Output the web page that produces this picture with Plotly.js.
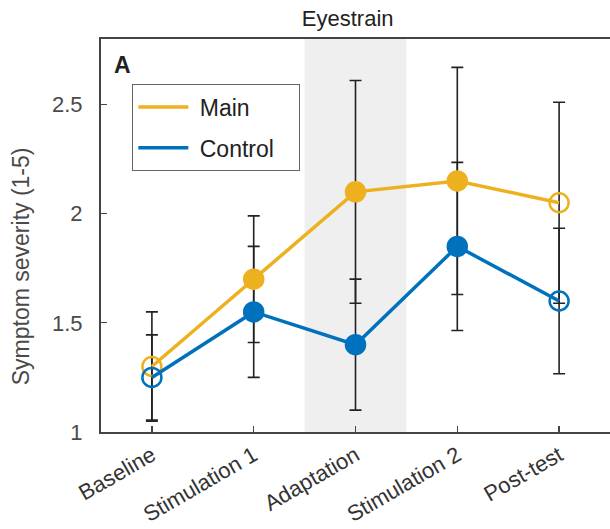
<!DOCTYPE html>
<html>
<head>
<meta charset="utf-8">
<script src="https://cdn.plot.ly/plotly-3.0.1.min.js"></script>
<style>html,body{margin:0;padding:0;background:#fff;}#chart{width:610px;height:529px;}</style>
</head>
<body>
<div id="chart"></div>
<script>
const categories = ["Baseline", "Stimulation 1", "Adaptation", "Stimulation 2", "Post-test"];
const positions = [1, 2, 3, 4, 5];
const mainMean = [1.30, 1.70, 2.10, 2.15, 2.05];
const mainErr = [0.25, 0.29, 0.51, 0.52, 0.46];
const controlMean = [1.25, 1.55, 1.40, 1.85, 1.60];
const controlErr = [0.195, 0.30, 0.30, 0.385, 0.333];
const markerSymbols = ["circle-open", "circle", "circle", "circle", "circle-open"];
const shadedPhase = [2.5, 3.5];
const yRange = [1, 2.8];
const yTicks = [1, 1.5, 2, 2.5];

const YELLOW = "#EDB120";
const BLUE = "#0072BD";
const FONT = "Liberation Sans, Arial, Helvetica, sans-serif";

function errTrace(y, e) {
  return {
    x: positions, y: y, type: "scatter", mode: "markers",
    marker: {size: 1, color: "rgba(0,0,0,0)"},
    error_y: {type: "data", array: e, visible: true, color: "#222", thickness: 1.6, width: 6},
    showlegend: false, hoverinfo: "skip"
  };
}
function dataTrace(y, color) {
  return {
    x: positions, y: y, type: "scatter", mode: "lines+markers",
    line: {color: color, width: 3.5},
    marker: {symbol: markerSymbols, size: 19, color: color, line: {color: color, width: 2.5}},
    showlegend: false
  };
}
function legendTrace(name, color, group) {
  return {
    x: [null], y: [null], type: "scatter", mode: "lines", name: name,
    line: {color: color, width: 3.5}, legendgroup: group, showlegend: true
  };
}

const data = [
  errTrace(mainMean, mainErr),
  errTrace(controlMean, controlErr),
  dataTrace(mainMean, YELLOW),
  dataTrace(controlMean, BLUE),
  legendTrace(" Main", YELLOW, "m"),
  legendTrace(" Control\u00a0\u00a0\u00a0", BLUE, "c")
];

const layout = {
  width: 610, height: 529,
  margin: {l: 101, r: 0, t: 39, b: 97, pad: 0},
  paper_bgcolor: "#fff", plot_bgcolor: "#fff",
  font: {family: FONT, size: 22, color: "#404040"},
  title: {text: "Eyestrain", font: {family: FONT, size: 22, color: "#222"}, x: 0.570, xanchor: "center", y: 0.966, yanchor: "middle"},
  xaxis: {
    range: [0.5, 5.5], tickvals: positions, ticktext: categories, tickangle: -30,
    ticks: "inside", ticklen: 6, tickwidth: 1.3, tickcolor: "#444",
    showline: true, linecolor: "#444", linewidth: 2, mirror: true,
    showgrid: false, zeroline: false,
    tickfont: {family: FONT, size: 22, color: "#333"}, fixedrange: true
  },
  yaxis: {
    range: yRange, tickvals: yTicks, ticktext: yTicks.map(String),
    ticks: "inside", ticklen: 6, tickwidth: 1.3, tickcolor: "#444",
    showline: true, linecolor: "#444", linewidth: 2, mirror: false,
    showgrid: false, zeroline: false, ticklabelstandoff: 12,
    tickfont: {family: FONT, size: 22, color: "#4a4a4a"}
  },
  shapes: [{
    type: "rect", xref: "x", yref: "y", x0: shadedPhase[0], x1: shadedPhase[1], y0: yRange[0], y1: yRange[1],
    fillcolor: "#efefef", line: {width: 0}, layer: "below"
  }],
  annotations: [{
    text: "<b>A</b>", xref: "paper", yref: "paper", x: 0.021, y: 0.9326, xanchor: "left", yanchor: "middle",
    showarrow: false, font: {family: FONT, size: 23, color: "#222"}
  }, {
    text: "Symptom severity (1-5)", xref: "paper", yref: "paper", x: -0.157, y: 0.422,
    xanchor: "center", yanchor: "middle", textangle: -90, showarrow: false,
    font: {family: FONT, size: 23, color: "#4a4a4a"}
  }],
  legend: {
    x: 0.061, y: 0.885, xanchor: "left", yanchor: "top",
    bgcolor: "#fff", bordercolor: "#666", borderwidth: 1.3,
    font: {family: FONT, size: 23, color: "#222"},
    tracegroupgap: 8, itemwidth: 50, traceorder: "grouped"
  },
  showlegend: true
};

Plotly.newPlot("chart", data, layout, {staticPlot: true, displayModeBar: false});
</script>
</body>
</html>
